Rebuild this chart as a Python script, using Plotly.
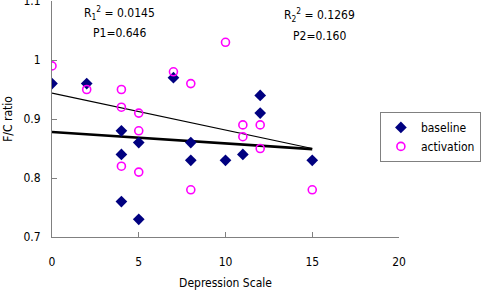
import plotly.graph_objects as go

# Data
baseline_x = [0, 2, 4, 4, 4, 5, 5, 7, 8, 8, 10, 11, 12, 12, 15]
baseline_y = [0.96, 0.96, 0.88, 0.84, 0.76, 0.86, 0.73, 0.97, 0.86, 0.83, 0.83, 0.84, 0.94, 0.91, 0.83]

activation_x = [0, 2, 4, 4, 4, 5, 5, 5, 7, 8, 8, 10, 11, 11, 12, 12, 15]
activation_y = [0.99, 0.95, 0.95, 0.92, 0.82, 0.91, 0.88, 0.81, 0.98, 0.96, 0.78, 1.03, 0.89, 0.87, 0.89, 0.85, 0.78]

# Trend lines (end points)
fit_x = [0, 15]
baseline_fit_y = [0.878, 0.849]
activation_fit_y = [0.944, 0.850]

x_ticks = [0, 5, 10, 15, 20]
y_ticks = [0.7, 0.8, 0.9, 1.0, 1.1]
y_tick_text = ["0.7", "0.8", "0.9", "1", "1.1"]

FONT = "DejaVu Sans Condensed, DejaVu Sans, sans-serif"
AXIS_GRAY = "#808080"

fig = go.Figure()

fig.add_trace(go.Scatter(
    x=fit_x, y=activation_fit_y, mode="lines",
    line=dict(color="black", width=1.2), showlegend=False, hoverinfo="skip"))
fig.add_trace(go.Scatter(
    x=fit_x, y=baseline_fit_y, mode="lines",
    line=dict(color="black", width=2.6), showlegend=False, hoverinfo="skip"))

fig.add_trace(go.Scatter(
    x=baseline_x, y=baseline_y, mode="markers", name="baseline",
    marker=dict(symbol="diamond", size=9, color="#000080",
                line=dict(width=0))))
fig.add_trace(go.Scatter(
    x=activation_x, y=activation_y, mode="markers", name="activation",
    marker=dict(symbol="circle-open", size=8, color="#FF00FF",
                line=dict(width=1.6, color="#FF00FF"))))

fig.add_annotation(x=3.9, y=1.080, xref="x", yref="y",
                   text="R<sub>1</sub><sup>2</sup> = 0.0145", showarrow=False,
                   font=dict(size=12, color="black", family=FONT))
fig.add_annotation(x=3.9, y=1.046, xref="x", yref="y",
                   text="P1=0.646", showarrow=False,
                   font=dict(size=12, color="black", family=FONT))
fig.add_annotation(x=15.4, y=1.077, xref="x", yref="y",
                   text="R<sub>2</sub><sup>2</sup> = 0.1269", showarrow=False,
                   font=dict(size=12, color="black", family=FONT))
fig.add_annotation(x=15.4, y=1.040, xref="x", yref="y",
                   text="P2=0.160", showarrow=False,
                   font=dict(size=12, color="black", family=FONT))

fig.update_layout(
    width=482, height=290,
    margin=dict(l=52, r=83, t=1, b=53, autoexpand=False),
    paper_bgcolor="white", plot_bgcolor="white",
    font=dict(family=FONT, size=12, color="black"),
    legend=dict(x=1.236, xanchor="right", y=0.53, yanchor="top",
                bgcolor="white", bordercolor=AXIS_GRAY, borderwidth=1,
                font=dict(size=12, family=FONT, color="black")),
    xaxis=dict(range=[0, 20], tickvals=x_ticks, showgrid=False, zeroline=False,
               showline=True, linecolor=AXIS_GRAY, linewidth=1,
               ticks="inside", ticklen=5, tickcolor=AXIS_GRAY,
               ticklabelstandoff=14, ticklabeloverflow="allow", automargin=False,
               title=dict(text="Depression Scale", standoff=13,
                          font=dict(size=12, family=FONT))),
    yaxis=dict(range=[0.7, 1.1], tickvals=y_ticks, ticktext=y_tick_text,
               showgrid=False, zeroline=False,
               showline=True, linecolor=AXIS_GRAY, linewidth=1,
               ticks="inside", ticklen=5, tickcolor=AXIS_GRAY,
               ticklabelstandoff=8, ticklabeloverflow="allow", automargin=False,
               title=dict(text="F/C ratio", standoff=8,
                          font=dict(size=12, family=FONT))),
)

fig.write_html("out.html")
